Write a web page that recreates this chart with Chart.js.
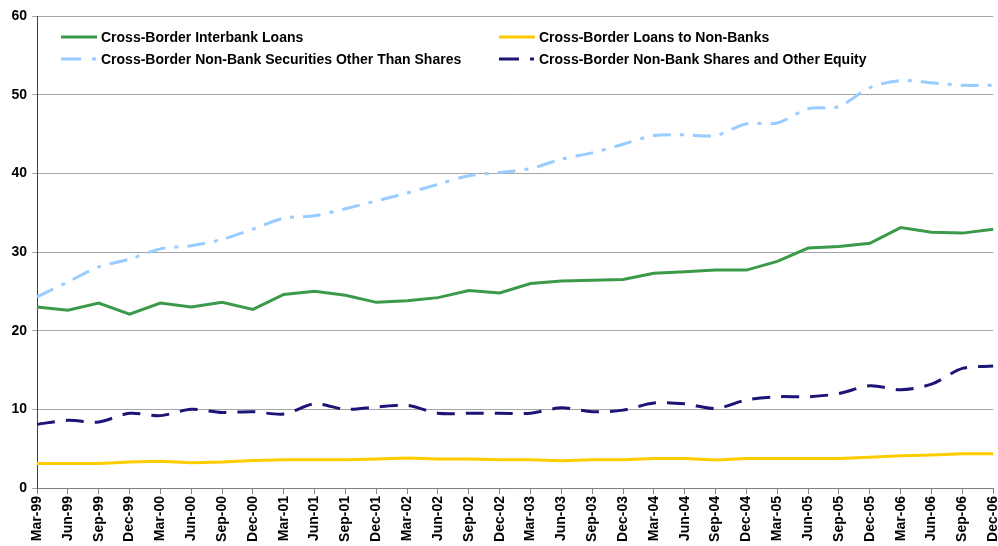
<!DOCTYPE html>
<html>
<head>
<meta charset="utf-8">
<script src="https://cdn.jsdelivr.net/npm/chart.js@4.4.1/dist/chart.umd.min.js"></script>
<style>
  html, body { margin: 0; padding: 0; background: #fff; overflow: hidden; }
  #wrap { position: relative; width: 1012px; height: 546px; }
  .item { position: absolute; display: flex; align-items: center; height: 18px;
          font: bold 14px "Liberation Sans", Arial, sans-serif; color: #000; white-space: nowrap; }
  .item svg { margin-right: 4px; }
</style>
</head>
<body>
<div id="wrap">
  <canvas id="lineChart" width="1012" height="546"></canvas>
  <div id="legend"></div>
</div>
<script>
const quarters = [
  'Mar-99','Jun-99','Sep-99','Dec-99','Mar-00','Jun-00','Sep-00','Dec-00',
  'Mar-01','Jun-01','Sep-01','Dec-01','Mar-02','Jun-02','Sep-02','Dec-02',
  'Mar-03','Jun-03','Sep-03','Dec-03','Mar-04','Jun-04','Sep-04','Dec-04',
  'Mar-05','Jun-05','Sep-05','Dec-05','Mar-06','Jun-06','Sep-06','Dec-06'
];
const interbankLoans = [
  23.0, 22.6, 23.5, 22.1, 23.5, 23.0, 23.6, 22.7,
  24.6, 25.0, 24.5, 23.6, 23.8, 24.2, 25.1, 24.8,
  26.0, 26.3, 26.4, 26.5, 27.3, 27.5, 27.7, 27.7,
  28.8, 30.5, 30.7, 31.1, 33.1, 32.5, 32.4, 32.9
];
const loansNonBanks = [
  3.1, 3.1, 3.1, 3.3, 3.4, 3.2, 3.3, 3.5,
  3.6, 3.6, 3.6, 3.7, 3.8, 3.7, 3.7, 3.6,
  3.6, 3.45, 3.6, 3.6, 3.75, 3.75, 3.55, 3.75,
  3.75, 3.75, 3.75, 3.9, 4.1, 4.2, 4.35, 4.35
];
const securitiesNonBank = [
  24.3, 26.2, 28.1, 29.1, 30.4, 30.8, 31.6, 32.9,
  34.3, 34.6, 35.5, 36.5, 37.5, 38.6, 39.7, 40.1,
  40.6, 41.8, 42.6, 43.7, 44.8, 44.9, 44.8, 46.3,
  46.4, 48.2, 48.5, 50.9, 51.8, 51.5, 51.2, 51.2
];
const sharesNonBank = [
  8.1, 8.6, 8.4, 9.5, 9.2, 10.0, 9.6, 9.7,
  9.4, 10.7, 10.0, 10.3, 10.5, 9.5, 9.5, 9.5,
  9.5, 10.2, 9.7, 9.9, 10.8, 10.7, 10.1, 11.2,
  11.6, 11.6, 12.0, 13.0, 12.5, 13.2, 15.2, 15.5
];
const yTicks = [0, 10, 20, 30, 40, 50, 60];

const boldFont = { family: '"Liberation Sans", Arial, sans-serif', weight: 'bold', size: 14 };

const series = [
  { label: 'Cross-Border Interbank Loans', data: interbankLoans, color: '#3a9a4a', dash: [], tension: 0 },
  { label: 'Cross-Border Loans to Non-Banks', data: loansNonBanks, color: '#ffcc00', dash: [], tension: 0 },
  { label: 'Cross-Border Non-Bank Securities Other Than Shares', data: securitiesNonBank, color: '#99ccff', dash: [18, 9, 4, 9], tension: 0.3 },
  { label: 'Cross-Border Non-Bank Shares and Other Equity', data: sharesNonBank, color: '#1c1478', dash: [18, 11], tension: 0.3 }
];

const ctx = document.getElementById('lineChart').getContext('2d');
const chart = new Chart(ctx, {
  type: 'line',
  data: {
    labels: quarters,
    datasets: series.map(s => ({
      label: s.label,
      data: s.data,
      borderColor: s.color,
      borderWidth: 3,
      borderDash: s.dash,
      tension: s.tension,
      pointRadius: 0,
      fill: false
    }))
  },
  options: {
    responsive: false,
    animation: false,
    layout: { padding: { top: 16, right: 14, left: 0, bottom: 0 } },
    plugins: { legend: { display: false }, tooltip: { enabled: false } },
    scales: {
      x: {
        grid: { drawOnChartArea: false, tickLength: 6, color: '#808080' },
        border: { color: '#808080' },
        ticks: { minRotation: 90, maxRotation: 90, autoSkip: false, color: '#000', font: boldFont, padding: 2 },
        afterFit: s => { s.height = 58; }
      },
      y: {
        min: 0, max: 60,
        afterBuildTicks: s => { s.ticks = yTicks.map(v => ({ value: v })); },
        grid: { color: '#a6a6a6', tickLength: 5 },
        border: { color: '#404040' },
        ticks: { color: '#000', font: boldFont, padding: 5 },
        afterFit: s => { s.width = 37; }
      }
    }
  }
});

// two-column legend inside the plot, like the original
const legend = document.getElementById('legend');
const spots = [[61, 28], [499, 28], [61, 50], [499, 50]];
series.forEach((s, i) => {
  const item = document.createElement('div');
  item.className = 'item';
  item.style.left = spots[i][0] + 'px';
  item.style.top = spots[i][1] + 'px';
  const dash = s.dash.length ? 'stroke-dasharray="20 11 4 20"' : '';
  item.innerHTML = '<svg width="36" height="6"><line x1="0" y1="3" x2="36" y2="3" stroke="' + s.color +
    '" stroke-width="3" ' + dash + '/></svg><span>' + s.label + '</span>';
  legend.appendChild(item);
});
</script>
</body>
</html>
